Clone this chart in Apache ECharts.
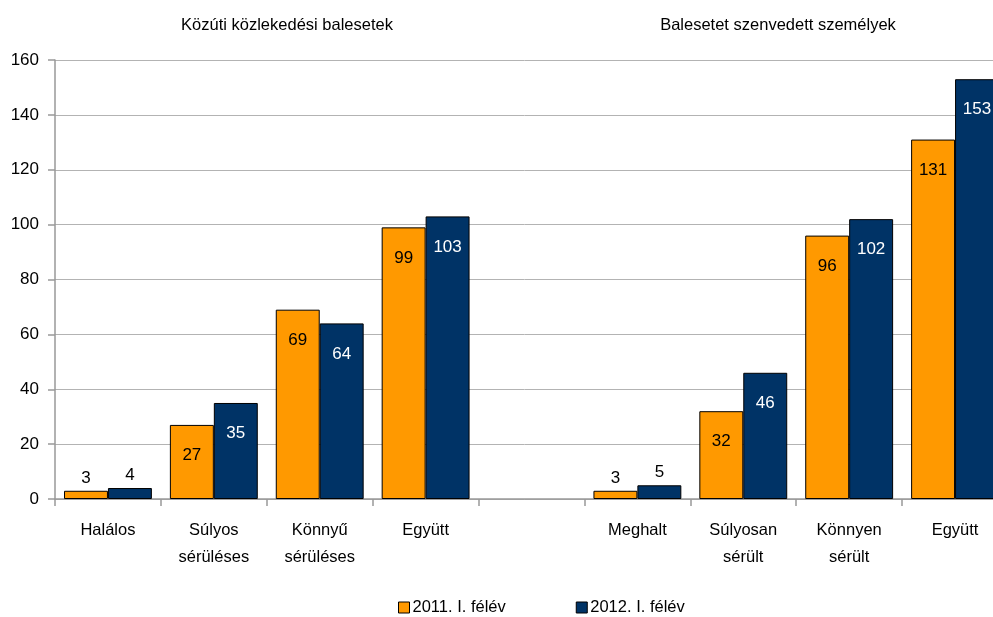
<!DOCTYPE html>
<html><head><meta charset="utf-8">
<script src="https://cdn.jsdelivr.net/npm/echarts@6/dist/echarts.min.js"></script>
<style>html,body{margin:0;padding:0;background:#fff}#c{width:993px;height:617px}</style>
</head><body><div id="c"></div>
<script>
const categories = ['Halálos', 'Súlyos\nsérüléses', 'Könnyű\nsérüléses', 'Együtt', '', 'Meghalt', 'Súlyosan\nsérült', 'Könnyen\nsérült', 'Együtt'];
const series2011 = [3, 27, 69, 99, null, 3, 32, 96, 131];
const series2012 = [4, 35, 64, 103, null, 5, 46, 102, 153];
const seriesNames = ['2011. I. félév', '2012. I. félév'];
const titles = ['Közúti közlekedési balesetek', 'Balesetet szenvedett személyek'];
const yTicks = {min: 0, max: 160, interval: 20};

const FONT = '"Liberation Sans", Arial, sans-serif';
function mkData(arr, textColor) {
  return arr.map(v => v == null ? '-' : {
    value: v,
    label: v < 10 ? {position: 'top', distance: 4, color: '#000'} : {position: 'insideTop', distance: 22, color: textColor}
  });
}
const chart = echarts.init(document.getElementById('c'), null, {renderer: 'canvas'});
chart.setOption({
  animation: false,
  textStyle: {fontFamily: FONT},
  title: [
    {text: titles[0], left: 282, top: 12, textAlign: 'center', textStyle: {fontFamily: FONT, fontSize: 16.5, fontWeight: 'normal', color: '#000'}},
    {text: titles[1], left: 773, top: 12, textAlign: 'center', textStyle: {fontFamily: FONT, fontSize: 16.5, fontWeight: 'normal', color: '#000'}}
  ],
  legend: {
    bottom: -4, left: 393, itemGap: 70, itemWidth: 11, itemHeight: 11,
    icon: 'rect',
    itemStyle: {borderColor: '#000', borderWidth: 1},
    textStyle: {fontFamily: FONT, fontSize: 16.5, color: '#000', padding: [0, 0, 0, -2]},
    data: seriesNames
  },
  grid: {left: 55, right: -15, top: 60, bottom: 118, outerBoundsMode: 'none', containLabel: false},
  xAxis: {
    type: 'category', data: categories,
    axisLine: {lineStyle: {color: '#999', width: 1.5}},
    axisTick: {show: true, length: 7, alignWithLabel: false, lineStyle: {color: '#999', width: 1.5}},
    axisLabel: {fontFamily: FONT, fontSize: 16.5, color: '#000', margin: 18, lineHeight: 27, interval: 0}
  },
  yAxis: {
    type: 'value', min: yTicks.min, max: yTicks.max, interval: yTicks.interval,
    axisLine: {show: true, lineStyle: {color: '#999', width: 1.5}},
    axisTick: {show: true, length: 7, lineStyle: {color: '#999', width: 1.5}},
    axisLabel: {fontFamily: FONT, fontSize: 17, color: '#000', margin: 16},
    splitLine: {lineStyle: {color: '#b3b3b3', width: 1}}
  },
  series: [
    {name: seriesNames[0], type: 'bar', data: mkData(series2011, '#000'), barGap: '0%', barCategoryGap: '17%',
     itemStyle: {color: '#FF9900', borderColor: '#000', borderWidth: 1},
     label: {show: true, fontFamily: FONT, fontSize: 17}},
    {name: seriesNames[1], type: 'bar', data: mkData(series2012, '#fff'), barGap: '0%', barCategoryGap: '17%',
     itemStyle: {color: '#003366', borderColor: '#000', borderWidth: 1},
     label: {show: true, fontFamily: FONT, fontSize: 17}}
  ]
});
</script></body></html>
